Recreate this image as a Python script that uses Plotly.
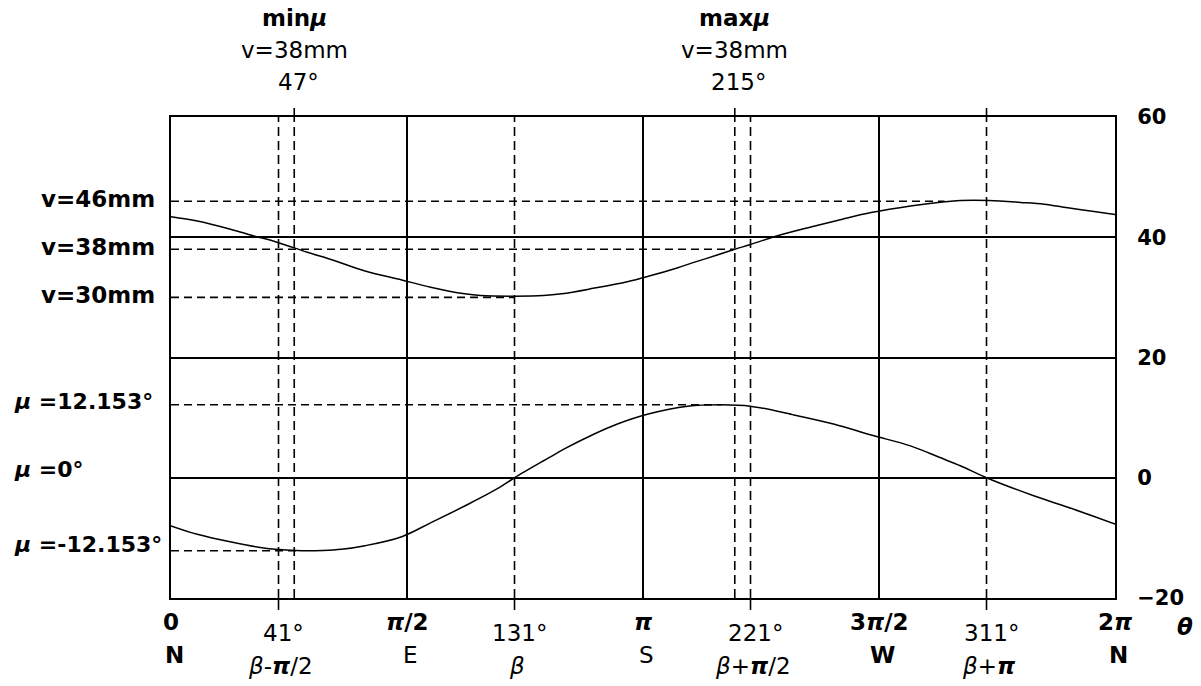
import plotly.graph_objects as go

# ---- data -------------------------------------------------------------
# azimuth theta in degrees, 0 = N, 90 = E, 180 = S, 270 = W
v_theta = [0, 10, 23, 31, 41, 52, 61, 74, 88, 99, 112, 118, 131, 142, 149,
           161, 174, 182, 193, 200, 208, 215, 221, 231, 244, 256, 267, 282,
           295, 301, 312, 324, 333, 342, 352, 360]
v_mm = [43.4, 42.7, 41.3, 40.3, 39.1, 37.5, 36.3, 34.4, 32.9, 31.7, 30.6,
        30.3, 30.2, 30.3, 30.6, 31.5, 32.6, 33.5, 34.9, 35.9, 37.0, 38.0,
        38.8, 40.2, 41.7, 43.0, 44.1, 45.2, 45.9, 46.1, 46.1, 45.8, 45.5,
        44.9, 44.3, 43.8]

mu_theta = [0, 10, 23, 34, 41, 50, 58, 65, 74, 88, 99, 112, 125, 131, 144,
            150, 161, 170, 182, 197, 210, 221, 237, 253, 267, 282, 293, 301,
            311, 329, 342, 360]
mu_deg = [-8.0, -9.4, -10.7, -11.6, -11.95, -12.15, -12.1, -11.9, -11.3,
          -9.8, -7.5, -4.7, -1.7, 0.0, 3.3, 4.8, 7.2, 8.9, 10.6, 11.9, 12.15,
          11.9, 10.5, 8.9, 7.1, 5.3, 3.4, 2.0, 0.0, -3.0, -4.9, -7.7]

# reference levels: (value, end of dashed guide along theta, label)
v_levels = [(46, 295, "v=46mm"), (38, 215, "v=38mm"), (30, 131, "v=30mm")]
mu_levels = [(12.153, 210, "<b><i>μ</i></b> =12.153°"),
             (0, None, "<b><i>μ</i></b> =0°"),
             (-12.153, 48, "<b><i>μ</i></b> =-12.153°")]
mu_label_shift = [3, 8, 6]

# marked azimuths
dashed_theta = [41, 47, 131, 215, 221, 311]
top_tick_theta = [47, 215, 311]
bottom_tick_theta = [41, 131, 221, 311]

quarter_theta = [0, 90, 180, 270, 360]
quarter_text = ["<b>0</b>", "<b><i>π</i>/2</b>", "<b><i>π</i></b>",
                "<b>3<i>π</i>/2</b>", "<b>2<i>π</i></b>"]
compass_text = ["<b>N</b>", "E", "S", "<b>W</b>", "<b>N</b>"]

beta_theta = [41, 131, 221, 311]
beta_deg_text = ["41°", "131°", "221°", "311°"]
beta_text = ["<i>β</i>-<b><i>π</i></b>/2", "<i>β</i>",
             "<i>β</i>+<b><i>π</i></b>/2", "<i>β</i>+<b><i>π</i></b>"]

top_theta = [47, 215]
top_title = ["<b>min<i>μ</i></b>", "<b>max<i>μ</i></b>"]
top_v = ["v=38mm", "v=38mm"]
top_deg = ["47°", "215°"]

y_ticks = [60, 40, 20, 0, -20]

# ---- figure -----------------------------------------------------------
FONT = "DejaVu Sans"
BLACK = "#000000"
H = 481  # plot height in px, used to express pixel offsets in paper units

fig = go.Figure()
fig.add_trace(go.Scatter(x=v_theta, y=v_mm, mode="lines",
                         line=dict(color=BLACK, width=1.5, shape="spline",
                                   smoothing=1.0),
                         hoverinfo="skip"))
fig.add_trace(go.Scatter(x=mu_theta, y=mu_deg, mode="lines",
                         line=dict(color=BLACK, width=1.5, shape="spline",
                                   smoothing=1.0),
                         hoverinfo="skip"))

shapes = []
dash_h = "8px,5px"
dash_v = "9px,5px"
for val, end, _ in v_levels + mu_levels:
    if end is None:
        continue
    shapes.append(dict(type="line", xref="x", yref="y", x0=0, x1=end,
                       y0=val, y1=val,
                       line=dict(color=BLACK, width=1.6, dash=dash_h)))
for t in dashed_theta:
    shapes.append(dict(type="line", xref="x", yref="paper", x0=t, x1=t,
                       y0=0, y1=1,
                       line=dict(color=BLACK, width=1.6, dash=dash_v)))
for t in top_tick_theta:
    shapes.append(dict(type="line", xref="x", yref="paper", x0=t, x1=t,
                       y0=1, y1=1 + 9 / H,
                       line=dict(color=BLACK, width=1.6)))
for t in bottom_tick_theta:
    shapes.append(dict(type="line", xref="x", yref="paper", x0=t, x1=t,
                       y0=0, y1=-12 / H,
                       line=dict(color=BLACK, width=1.6)))

ann = []


def label(text, x, y, xref, yref, xanchor="center", yanchor="middle",
          xshift=0, yshift=0, size=23):
    ann.append(dict(text=text, x=x, y=y, xref=xref, yref=yref,
                    xanchor=xanchor, yanchor=yanchor, xshift=xshift,
                    yshift=yshift, showarrow=False,
                    font=dict(family=FONT, size=size, color=BLACK)))


# left-hand level labels
for val, _, txt in v_levels:
    label(f"<b>{txt}</b>", 0, val, "paper", "y", xanchor="right",
          xshift=-14, yshift=2)
for (val, _, txt), s in zip(mu_levels, mu_label_shift):
    label(f"<b>{txt}</b>", 0, val, "paper", "y", xanchor="left",
          xshift=-159, yshift=s, size=22)

# top labels
for t, a, b, c in zip(top_theta, top_title, top_v, top_deg):
    label(a, t, 1, "x", "paper", yshift=99)
    label(b, t, 1, "x", "paper", yshift=67)
    label(c, t, 1, "x", "paper", yshift=35, xshift=4)

# bottom labels
for t, a, b in zip(quarter_theta, quarter_text, compass_text):
    label(a, t, 0, "x", "paper", yshift=-24)
    label(b, t, 0, "x", "paper", yshift=-57, xshift=3)
for t, a, b in zip(beta_theta, beta_deg_text, beta_text):
    label(a, t, 0, "x", "paper", yshift=-35, xshift=5)
    label(b, t, 0, "x", "paper", yshift=-68, xshift=2)
label("<b><i>θ</i></b>", 1, 0, "paper", "paper", xshift=70, yshift=-29)

fig.update_layout(
    width=1201, height=686,
    margin=dict(l=171, r=86, t=117, b=88),
    paper_bgcolor="white", plot_bgcolor="white",
    showlegend=False,
    shapes=shapes, annotations=ann,
    xaxis=dict(range=[0, 360], tickvals=[90, 180, 270], showticklabels=False,
               ticks="", showgrid=True, gridcolor=BLACK, gridwidth=1.5,
               zeroline=False, showline=True, linecolor=BLACK, linewidth=2,
               mirror=True, fixedrange=True),
    yaxis=dict(range=[-20, 60], tickvals=y_ticks, side="right", ticks="",
               showgrid=True, gridcolor=BLACK, gridwidth=1.5, zeroline=False,
               showline=True, linecolor=BLACK, linewidth=2, mirror=True,
               ticklabelstandoff=16,
               tickfont=dict(family=FONT, size=21, color=BLACK, weight="bold"),
               fixedrange=True),
)

fig.write_html("out.html")
